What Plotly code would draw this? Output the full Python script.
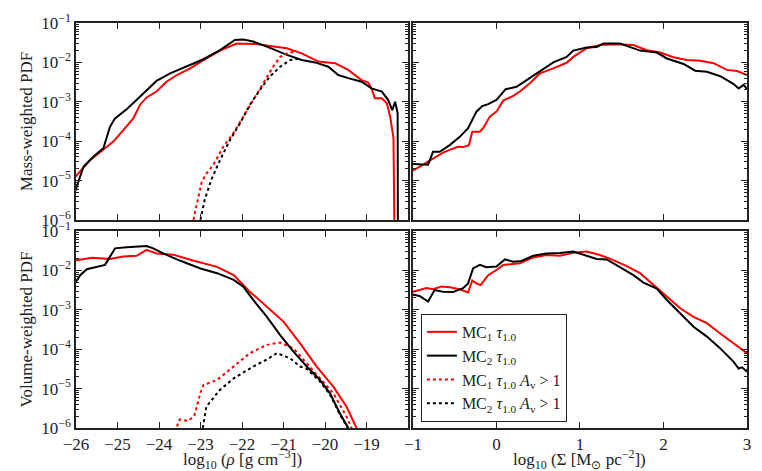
import numpy as np
import plotly.graph_objects as go
from plotly.subplots import make_subplots

# values (x in log10 units, y as log10 of the PDF)
# mass-weighted, density
rho_m_mc2_x = [-26.0, -25.98, -25.82, -25.58, -25.34, -25.18, -25.06, -24.78, -24.46, -24.22, -24.06, -23.73,
               -23.33, -22.93, -22.53, -22.17, -21.97, -21.73, -21.4, -20.92, -20.56, -20.24, -19.92, -19.68,
               -19.44, -19.12, -18.88, -18.63, -18.48, -18.38, -18.31, -18.25, -18.24]
rho_m_mc2_y = [-5.25, -5.15, -4.65, -4.39, -4.18, -3.63, -3.42, -3.19, -2.87, -2.62, -2.47, -2.28,
               -2.11, -1.92, -1.69, -1.43, -1.42, -1.47, -1.60, -1.81, -1.94, -2.0, -2.11, -2.32,
               -2.40, -2.49, -2.66, -2.74, -2.95, -3.21, -3.0, -3.29, -8.0]
rho_m_mc1_x = [-26.0, -25.98, -25.66, -25.34, -25.1, -24.86, -24.62, -24.46, -24.3, -24.06, -23.82, -23.57,
               -23.25, -22.93, -22.53, -22.13, -21.69, -21.37, -20.92, -20.56, -20.16, -19.76, -19.44,
               -19.12, -18.96, -18.88, -18.8, -18.63, -18.51, -18.43, -18.35, -18.31]
rho_m_mc1_y = [-4.9, -4.86, -4.48, -4.22, -4.01, -3.72, -3.42, -3.08, -2.89, -2.74, -2.49, -2.32,
               -2.15, -1.94, -1.70, -1.52, -1.53, -1.58, -1.64, -1.77, -1.98, -2.02, -2.19,
               -2.45, -2.51, -2.66, -2.91, -2.91, -3.04, -3.38, -3.92, -8.0]
rho_m_mc1_av_x = [-23.2, -23.17, -23.05, -22.97, -22.85, -22.69, -22.45, -22.21, -21.97, -21.73, -21.49,
                  -21.25, -21.08, -20.92, -20.7]
rho_m_mc1_av_y = [-6.3, -6.0, -5.41, -5.03, -4.81, -4.60, -4.14, -3.80, -3.38, -2.95, -2.53,
                  -2.11, -1.86, -1.77, -1.72]
rho_m_mc2_av_x = [-23.02, -23.0, -22.9, -22.74, -22.53, -22.29, -22.05, -21.81, -21.57, -21.33, -21.08,
                  -20.84, -20.64]
rho_m_mc2_av_y = [-6.3, -6.0, -5.49, -4.98, -4.48, -3.97, -3.55, -3.08, -2.70, -2.36, -2.11,
                  -1.94, -1.91]

# mass-weighted, column density
sig_m_mc2_x = [-1.0, -0.82, -0.76, -0.68, -0.56, -0.44, -0.34, -0.24, -0.17, -0.1, 0.0, 0.11, 0.24, 0.36,
               0.52, 0.68, 0.84, 0.92, 1.08, 1.2, 1.28, 1.48, 1.56, 1.72, 1.92, 2.04, 2.24, 2.38, 2.52,
               2.68, 2.84, 2.9, 2.96, 3.0]
sig_m_mc2_y = [-4.58, -4.6, -4.27, -4.27, -4.10, -3.89, -3.67, -3.25, -3.11, -3.06, -2.95, -2.68, -2.62,
               -2.45, -2.21, -2.0, -1.86, -1.70, -1.62, -1.61, -1.52, -1.52, -1.58, -1.70, -1.75, -1.90,
               -2.04, -2.21, -2.24, -2.35, -2.55, -2.66, -2.57, -2.68]
sig_m_mc1_x = [-1.0, -0.88, -0.76, -0.64, -0.56, -0.46, -0.40, -0.33, -0.29, -0.2, -0.16, -0.08, 0.0, 0.08,
               0.2, 0.28, 0.4, 0.52, 0.68, 0.84, 0.92, 1.08, 1.24, 1.44, 1.64, 1.8, 1.96, 2.12, 2.28, 2.44,
               2.6, 2.76, 2.88, 3.0]
sig_m_mc1_y = [-4.75, -4.6, -4.46, -4.29, -4.22, -4.14, -4.15, -4.10, -3.76, -3.76, -3.67, -3.38, -3.25,
               -2.97, -2.85, -2.74, -2.53, -2.28, -2.15, -2.01, -1.86, -1.64, -1.56, -1.54, -1.56, -1.69,
               -1.75, -1.87, -1.94, -1.96, -2.02, -2.19, -2.22, -2.32]

# volume-weighted, density
rho_v_mc2_x = [-26.0, -25.9, -25.74, -25.5, -25.3, -25.18, -25.06, -24.78, -24.3, -24.14, -23.9, -23.5,
               -23.0, -22.6, -22.2, -21.97, -21.73, -21.4, -21.08, -20.76, -20.44, -20.12, -19.88, -19.64,
               -19.44, -19.35]
rho_v_mc2_y = [-2.29, -2.12, -1.97, -1.91, -1.86, -1.65, -1.44, -1.41, -1.38, -1.44, -1.57, -1.75,
               -1.95, -2.07, -2.24, -2.41, -2.75, -3.18, -3.64, -4.06, -4.44, -4.78, -5.12, -5.63,
               -6.0, -6.3]
rho_v_mc1_x = [-26.0, -25.6, -25.18, -24.86, -24.54, -24.3, -24.06, -23.66, -23.18, -22.6, -22.2, -21.81,
               -21.4, -21.0, -20.6, -20.2, -19.8, -19.48, -19.24, -19.15]
rho_v_mc1_y = [-1.74, -1.68, -1.71, -1.65, -1.63, -1.48, -1.57, -1.6, -1.75, -1.91, -2.12, -2.54,
               -2.92, -3.30, -3.85, -4.44, -4.95, -5.46, -6.0, -6.3]
rho_v_mc1_av_x = [-23.62, -23.5, -23.3, -23.15, -23.0, -22.93, -22.6, -22.2, -21.81, -21.4, -21.08, -20.76,
                  -20.44, -20.12, -19.8, -19.48, -19.36, -19.3]
rho_v_mc1_av_y = [-6.1, -5.78, -5.82, -5.7, -5.1, -4.91, -4.78, -4.44, -4.10, -3.89, -3.83, -3.98,
                  -4.36, -4.74, -5.12, -5.71, -6.0, -6.3]
rho_v_mc2_av_x = [-22.99, -22.86, -22.54, -22.2, -21.73, -21.4, -21.16, -20.84, -20.6, -20.44, -20.12,
                  -19.88, -19.64, -19.44, -19.35]
rho_v_mc2_av_y = [-6.3, -5.46, -5.04, -4.74, -4.44, -4.26, -4.10, -4.23, -4.44, -4.5, -4.82,
                  -5.15, -5.66, -6.02, -6.3]

# volume-weighted, column density
sig_v_mc2_x = [-1.0, -0.92, -0.82, -0.74, -0.64, -0.52, -0.40, -0.34, -0.28, -0.20, -0.12, 0.0, 0.1, 0.2,
               0.3, 0.44, 0.6, 0.76, 0.92, 1.04, 1.2, 1.32, 1.48, 1.64, 1.76, 1.92, 2.04, 2.2, 2.36, 2.52,
               2.68, 2.84, 2.9, 2.94, 3.0]
sig_v_mc2_y = [-2.62, -2.65, -2.79, -2.50, -2.54, -2.55, -2.45, -2.33, -1.95, -1.86, -1.92, -1.90, -1.72,
               -1.78, -1.76, -1.63, -1.57, -1.56, -1.52, -1.61, -1.71, -1.72, -1.91, -2.12, -2.31, -2.46,
               -2.75, -3.09, -3.43, -3.68, -3.98, -4.32, -4.49, -4.46, -4.57]
sig_v_mc1_x = [-1.0, -0.92, -0.84, -0.76, -0.66, -0.56, -0.44, -0.34, -0.29, -0.24, -0.19, -0.1, 0.0, 0.08,
               0.28, 0.44, 0.6, 0.76, 0.92, 1.08, 1.24, 1.4, 1.56, 1.72, 1.88, 2.04, 2.2, 2.36, 2.52, 2.68,
               2.84, 3.0]
sig_v_mc1_y = [-2.54, -2.50, -2.45, -2.48, -2.41, -2.43, -2.48, -2.56, -2.26, -2.33, -2.37, -2.12, -1.99,
               -1.86, -1.82, -1.67, -1.61, -1.63, -1.55, -1.52, -1.61, -1.74, -1.89, -2.07, -2.37, -2.67,
               -2.96, -3.18, -3.34, -3.6, -3.85, -4.10]

names = ["MC<sub>1</sub> <i>τ</i><sub>1.0</sub>",
         "MC<sub>2</sub> <i>τ</i><sub>1.0</sub>",
         "MC<sub>1</sub> <i>τ</i><sub>1.0</sub> <i>A</i><sub>v</sub> > 1",
         "MC<sub>2</sub> <i>τ</i><sub>1.0</sub> <i>A</i><sub>v</sub> > 1"]
rho_title = "log<sub>10</sub> (<i>ρ</i> [g cm<sup>−3</sup>])"
sig_title = "log<sub>10</sub> (Σ [M<sub>⊙</sub> pc<sup>−2</sup>])"

RED = "#ff0000"
BLACK = "#000000"
INK = "#222222"
FONT = "Liberation Serif"

fig = make_subplots(rows=2, cols=2)


def add(x, ly, row, col, color, dash, name, legend):
    fig.add_trace(go.Scatter(x=x, y=np.power(10.0, ly), mode="lines", name=name, showlegend=legend,
                             line=dict(color=color, width=2, dash=dash)), row=row, col=col)


add(rho_m_mc1_x, rho_m_mc1_y, 1, 1, RED, "solid", names[0], True)
add(rho_m_mc2_x, rho_m_mc2_y, 1, 1, BLACK, "solid", names[1], True)
add(rho_m_mc1_av_x, rho_m_mc1_av_y, 1, 1, RED, "dot", names[2], True)
add(rho_m_mc2_av_x, rho_m_mc2_av_y, 1, 1, BLACK, "dot", names[3], True)
add(sig_m_mc1_x, sig_m_mc1_y, 1, 2, RED, "solid", names[0], False)
add(sig_m_mc2_x, sig_m_mc2_y, 1, 2, BLACK, "solid", names[1], False)
add(rho_v_mc1_av_x, rho_v_mc1_av_y, 2, 1, RED, "dot", names[2], False)
add(rho_v_mc2_av_x, rho_v_mc2_av_y, 2, 1, BLACK, "dot", names[3], False)
add(rho_v_mc1_x, rho_v_mc1_y, 2, 1, RED, "solid", names[0], False)
add(rho_v_mc2_x, rho_v_mc2_y, 2, 1, BLACK, "solid", names[1], False)
add(sig_v_mc1_x, sig_v_mc1_y, 2, 2, RED, "solid", names[0], False)
add(sig_v_mc2_x, sig_v_mc2_y, 2, 2, BLACK, "solid", names[1], False)

y_ticks = [1e-6, 1e-5, 1e-4, 1e-3, 1e-2, 1e-1]
y_text = ["10<sup>−%d</sup>" % k for k in [6, 5, 4, 3, 2, 1]]
y_minor = [m * 10.0 ** e for e in range(-6, -1) for m in range(2, 10)]

axis_common = dict(showline=True, linecolor=INK, linewidth=1.5, mirror="allticks",
                   ticks="inside", ticklen=6, tickwidth=1, tickcolor=INK,
                   showgrid=False, zeroline=False, automargin=False,
                   tickfont=dict(family=FONT, size=17, color=INK))

xl = (0.0, 0.4948)
xr = (0.5022, 1.0)
yt = (0.5136, 1.0)
yb = (0.0, 0.4864)

rho_ticks = list(range(-26, -18))
rho_text = ["−%d" % (-v) for v in rho_ticks]
sig_ticks = [-1, 0, 1, 2, 3]
sig_text = ["−1", "0", "1", "2", "3"]

fig.update_layout(
    xaxis=dict(axis_common, domain=xl, range=[-26, -18], tickvals=rho_ticks + [-18], showticklabels=False),
    xaxis2=dict(axis_common, domain=xr, range=[-1, 3], tickvals=sig_ticks, showticklabels=False),
    xaxis3=dict(axis_common, domain=xl, range=[-26, -18], tickvals=rho_ticks, ticktext=rho_text),
    xaxis4=dict(axis_common, domain=xr, range=[-1, 3], tickvals=sig_ticks, ticktext=sig_text),
)

for name, dom, labels, title in [("yaxis", yt, True, "Mass-weighted PDF"),
                                 ("yaxis2", yt, False, None),
                                 ("yaxis3", yb, True, "Volume-weighted PDF"),
                                 ("yaxis4", yb, False, None)]:
    ax = dict(axis_common, domain=dom, type="log", range=[-6, -1], tickvals=y_ticks, ticktext=y_text,
              showticklabels=labels,
              minor=dict(ticks="inside", ticklen=3, tickcolor=INK, tickvals=y_minor))
    if title:
        ax["title"] = dict(text=title, font=dict(family=FONT, size=17, color=INK), standoff=4)
    fig.update_layout({name: ax})

# x titles sit a little lower than plotly puts them, so place them by hand
for cx, txt in [(sum(xl) / 2, rho_title), (sum(xr) / 2, sig_title)]:
    fig.add_annotation(x=cx, y=-0.079, xref="paper", yref="paper", text=txt, showarrow=False,
                       xanchor="center", yanchor="middle", font=dict(family=FONT, size=17, color=INK))

# the page adds an 8px body margin, so the figure is drawn 8px smaller and shifted
fig.update_layout(
    width=754, height=463,
    margin=dict(l=68, r=15, t=15, b=43),
    paper_bgcolor="white", plot_bgcolor="white",
    font=dict(family=FONT, size=16, color=INK),
    legend=dict(x=0.514, y=0.015, xanchor="left", yanchor="bottom",
                bgcolor="white", bordercolor=INK, borderwidth=1,
                font=dict(family=FONT, size=16, color=INK),
                tracegroupgap=0, itemwidth=30),
)

fig.write_html("out.html")
